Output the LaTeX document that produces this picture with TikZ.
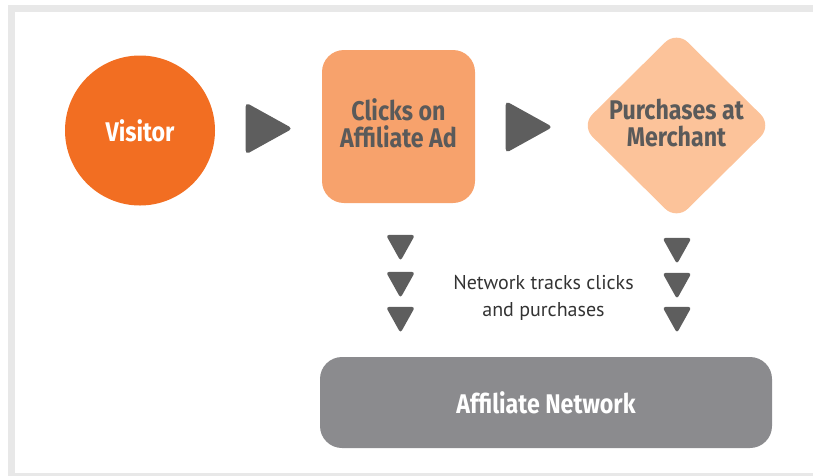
\documentclass[tikz,border=0pt]{standalone}
\usepackage{fontspec}
\setmainfont{PT Sans}
\newfontfamily\headfont[FakeStretch=0.86]{Fira Sans}
\usetikzlibrary{shapes.geometric}
\definecolor{frameg}{HTML}{E8E8E8}
\definecolor{visor}{HTML}{F26E22}
\definecolor{clickor}{HTML}{F7A26C}
\definecolor{purchor}{HTML}{FCC39A}
\definecolor{netg}{HTML}{8B8B8E}
\definecolor{trig}{HTML}{5E5E5E}
\definecolor{darktxt}{HTML}{5A5A5A}
\definecolor{bodytxt}{HTML}{333333}
\tikzset{
  head/.style={font=\headfont\bfseries\fontsize{27}{27}\selectfont, align=center},
  rtri/.style={isosceles triangle, isosceles triangle stretches=true, fill=trig,
    rounded corners=4pt, inner sep=0pt, minimum height=47pt, minimum width=52pt},
  dtri/.style={isosceles triangle, isosceles triangle stretches=true, fill=trig,
    rounded corners=3pt, inner sep=0pt, minimum height=26pt, minimum width=29pt,
    shape border rotate=-90},
}
\begin{document}
\begin{tikzpicture}[x=1pt,y=-1pt]
\useasboundingbox (0,0) rectangle (813,475);
\begin{scope}
\clip (0,0) rectangle (813,475);
\draw[frameg, line width=7pt] (11,8.5) rectangle (830,476.5);
\end{scope}
\node[circle, fill=visor, minimum size=150pt, inner sep=0pt, head, text=white] (visitor) at (140,130.5) {Visitor};
\node[rectangle, rounded corners=22pt, fill=clickor, minimum width=153pt, minimum height=153pt, inner sep=0pt] (clicks) at (398.5,126.5) {};
\node[head, text=darktxt] (clickstxt) at (398.5,123) {Clicks on\\Affiliate Ad};
\node[diamond, aspect=1, rounded corners=16pt, fill=purchor, minimum width=191pt, minimum height=189pt, inner sep=0pt] (purch) at (676.5,125.5) {};
\node[head, text=darktxt] (purchtxt) at (676.5,123) {Purchases at\\Merchant};
\node[rectangle, rounded corners=22pt, fill=netg, minimum width=452pt, minimum height=91pt, inner sep=0pt, head, text=white] (net) at (546,402.5) {Affiliate Network};
\node[rtri] (a1) at (261,128.5) {};
\node[rtri] (a2) at (521,127) {};
\node[dtri] (l1) at (400.5,243.5) {};
\node[dtri] (l2) at (400.5,280.5) {};
\node[dtri] (l3) at (400.5,315.5) {};
\node[dtri] (r1) at (677,246.5) {};
\node[dtri] (r2) at (677,281.5) {};
\node[dtri] (r3) at (677,315.5) {};
\node[font=\fontsize{20}{27}\selectfont, text=bodytxt, align=center] (track) at (543.5,298) {Network tracks clicks\\and purchases};
\end{tikzpicture}
\end{document}
